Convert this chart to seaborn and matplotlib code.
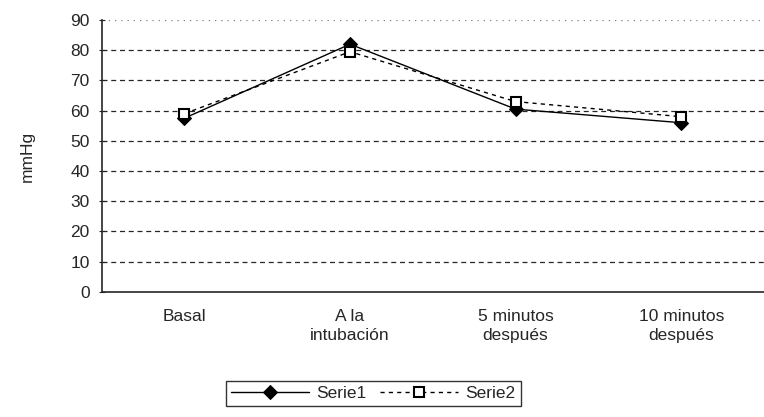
import matplotlib
matplotlib.use("Agg")
import matplotlib.pyplot as plt
import seaborn as sns
import pandas as pd

# data
categorias = ["Basal", "A la\nintubación", "5 minutos\ndespués", "10 minutos\ndespués"]
serie1 = [57.5, 82, 60.5, 56]
serie2 = [59, 79.5, 63, 58]
yticks = list(range(0, 100, 10))

df = pd.DataFrame({
    "pos": list(range(len(categorias))) * 2,
    "valor": serie1 + serie2,
    "serie": ["Serie1"] * len(categorias) + ["Serie2"] * len(categorias),
})

sns.set_style("white")
plt.rcParams["font.family"] = ["Liberation Sans", "DejaVu Sans"]

fig, ax = plt.subplots(figsize=(7.64, 4.17), dpi=100)
fig.subplots_adjust(left=0.133, right=1.0, top=0.952, bottom=0.30)

# gridlines
for y in yticks[1:]:
    ax.axhline(y, color="black", lw=0.9, ls=(0, (4, 3)) if y < 90 else (0, (1, 4)),
               alpha=0.85 if y < 90 else 0.5, zorder=0)

s1 = df[df["serie"] == "Serie1"]
s2 = df[df["serie"] == "Serie2"]
sns.lineplot(data=s1, x="pos", y="valor", ax=ax, color="black", lw=1.0,
             marker="D", markersize=7, markerfacecolor="black",
             markeredgecolor="black", label="Serie1")
sns.lineplot(data=s2, x="pos", y="valor", ax=ax, color="black", lw=1.0,
             dashes=False, ls=(0, (3, 3)), marker="s", markersize=7,
             markerfacecolor="white", markeredgecolor="black",
             markeredgewidth=1.5, label="Serie2")

ax.set_xlim(-0.5, 3.5)
ax.set_ylim(0, 90)
ax.set_yticks(yticks)
ax.set_xticks(range(len(categorias)))
ax.set_xticklabels(categorias, fontsize=12.5, linespacing=1.35)
ax.tick_params(axis="y", labelsize=12.5, length=5, direction="inout", left=True, pad=6)
ax.tick_params(axis="x", length=0, pad=12)
ax.set_xlabel("")
ax.set_ylabel("mmHg", fontsize=12.5, labelpad=26)

for sp in ["top", "right"]:
    ax.spines[sp].set_visible(False)
ax.spines["left"].set_linewidth(1.2)
ax.spines["bottom"].set_linewidth(1.2)

leg = ax.legend(loc="upper center", bbox_to_anchor=(0.41, -0.295), ncol=2,
                frameon=True, fancybox=False, edgecolor="black", fontsize=12.5,
                handlelength=4.5, handletextpad=0.4, columnspacing=0.8,
                borderpad=0.3)
leg.get_frame().set_linewidth(1.0)

fig.savefig("out.png", dpi=100)
